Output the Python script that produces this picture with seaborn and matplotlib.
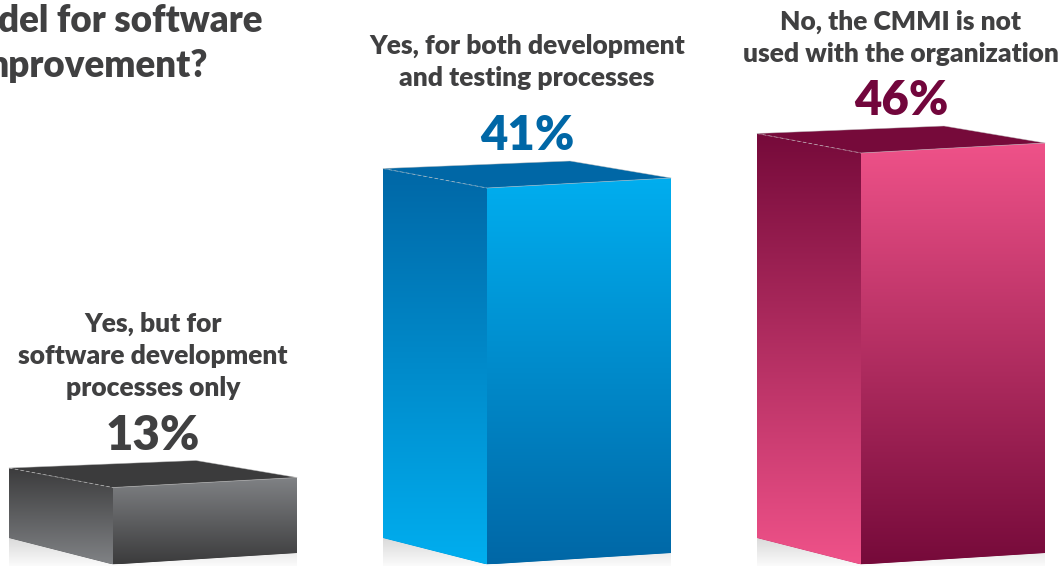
import numpy as np
import matplotlib
matplotlib.use('Agg')
import matplotlib.pyplot as plt
import seaborn as sns
from matplotlib.colors import LinearSegmentedColormap
from matplotlib.patches import Polygon

sns.set_theme(style='white')
plt.rcParams['font.family'] = ['Lato', 'DejaVu Sans']

# values as printed on the chart
categories = ['Yes, but for\nsoftware development\nprocesses only',
              'Yes, for both development\nand testing processes',
              'No, the CMMI is not\nused with the organization']
values = [13, 41, 46]
pct_labels = ['13%', '41%', '46%']

# the drawn bars are not proportional, so the y axis is a piecewise scale
scale_pct = [-10, 0, 13, 41, 46, 100]
scale_height = [-60, 0, 77, 376.5, 411.5, 789.5]

dark = ['#3b3b3c', '#0067a6', '#760a3a']
light = ['#808285', '#00aeef', '#ef5289']
pct_colors = ['#404041', '#0067a6', '#72063c']
title_color = '#404041'

W, H = 1063, 566
BOTTOM = 564.5  # front corner of the base, in px from the top
SPACING = 374
FIRST_X = 153
WEIGHT = 'heavy'


def to_height(v):
    return np.interp(v, scale_pct, scale_height)


def to_pct(h):
    return np.interp(h, scale_height, scale_pct)


def gradient_face(ov, pts, top_col, bot_col):
    poly = Polygon(pts, closed=True, facecolor='none', edgecolor='none')
    ov.add_patch(poly)
    xs = [p[0] for p in pts]
    ys = [p[1] for p in pts]
    cmap = LinearSegmentedColormap.from_list('g', [top_col, bot_col])
    grad = np.linspace(0, 1, 256).reshape(-1, 1)
    im = ov.imshow(grad, extent=[min(xs), max(xs), max(ys), min(ys)], aspect='auto',
                   cmap=cmap, interpolation='bilinear', zorder=2)
    im.set_clip_path(poly)


fig = plt.figure(figsize=(W / 100, H / 100), dpi=100)
ax = fig.add_axes([0, 0, 1, 1])

sns.barplot(x=categories, y=values, hue=categories, palette=dark, width=288 / SPACING,
            saturation=1, legend=False, ax=ax)
ax.set_yscale('function', functions=(to_height, to_pct))
ax.set_xlim(-FIRST_X / SPACING, (W - FIRST_X) / SPACING)
ax.set_ylim(to_pct(BOTTOM - H), to_pct(BOTTOM))
ax.axis('off')

# pixel overlay for the faces of the boxes
ov = fig.add_axes([0, 0, 1, 1], zorder=3)
ov.set_xlim(0, W)
ov.set_ylim(H, 0)
ov.axis('off')

label_gaps = [35, 46, 35]

for i, bar in enumerate(ax.patches):
    px = ax.transData.transform((bar.get_x(), bar.get_height()))
    x0 = px[0]
    yt = H - px[1]
    xm, xb, xr = x0 + 104, x0 + 187, x0 + 288
    yb = H - ax.transData.transform((bar.get_x(), 0))[1]

    left_top = (x0, yt - 19.5)
    back_top = (xb, yt - 27)
    right_top = (xr, yt - 10)
    front_top = (xm, yt)
    front_bot = (xm, yb)
    left_bot = (x0, yb - 26.5)
    right_bot = (xr, yb - 11.5)

    # only keep the seaborn bar inside the box outline
    outline = Polygon([left_top, back_top, right_top, right_bot, front_bot, left_bot],
                      closed=True, facecolor='none', edgecolor='none')
    ov.add_patch(outline)
    bar.set_clip_path(outline)

    # soft floor shadow
    gradient_face(ov, [left_bot, front_bot, right_bot, (xr, H), (x0, H)], '#dadada', '#fbfbfb')

    gradient_face(ov, [left_top, front_top, front_bot, left_bot], dark[i], light[i])
    gradient_face(ov, [front_top, right_top, right_bot, front_bot], light[i], dark[i])
    ov.add_patch(Polygon([left_top, back_top, right_top, front_top], closed=True,
                         facecolor=dark[i], edgecolor='none', zorder=3))

    # thin highlights on the edges
    ov.plot([left_top[0], front_top[0]], [left_top[1], front_top[1]], color='#c8c8c8',
            lw=0.6, ls=(0, (4, 3)), alpha=0.7, zorder=4)
    ov.plot([left_top[0], back_top[0], right_top[0]], [left_top[1], back_top[1], right_top[1]],
            color='#bdbdbd', lw=0.5, alpha=0.6, zorder=4)
    ov.plot([front_top[0], right_top[0]], [front_top[1], right_top[1]], color='#cccccc',
            lw=0.5, alpha=0.6, zorder=4)

    cx = x0 + 144
    pct_y = back_top[1] - 25
    ov.text(cx, pct_y, pct_labels[i], ha='center', va='center', fontsize=34, fontweight=WEIGHT,
            color=pct_colors[i], zorder=5)
    ov.text(cx, pct_y - label_gaps[i], categories[i], ha='center', va='bottom', fontsize=19,
            fontweight=WEIGHT, color=title_color, linespacing=1.42, zorder=5)

ov.set_xlim(0, W)
ov.set_ylim(H, 0)

# title runs off the left edge of the crop
ov.text(262, 32.5, 'del for software', ha='right', va='baseline', fontsize=26.5, fontweight=WEIGHT,
        color=title_color, zorder=5)
ov.text(208, 77, 'mprovement?', ha='right', va='baseline', fontsize=26.5, fontweight=WEIGHT,
        color=title_color, zorder=5)

fig.savefig('out.png', dpi=100)
